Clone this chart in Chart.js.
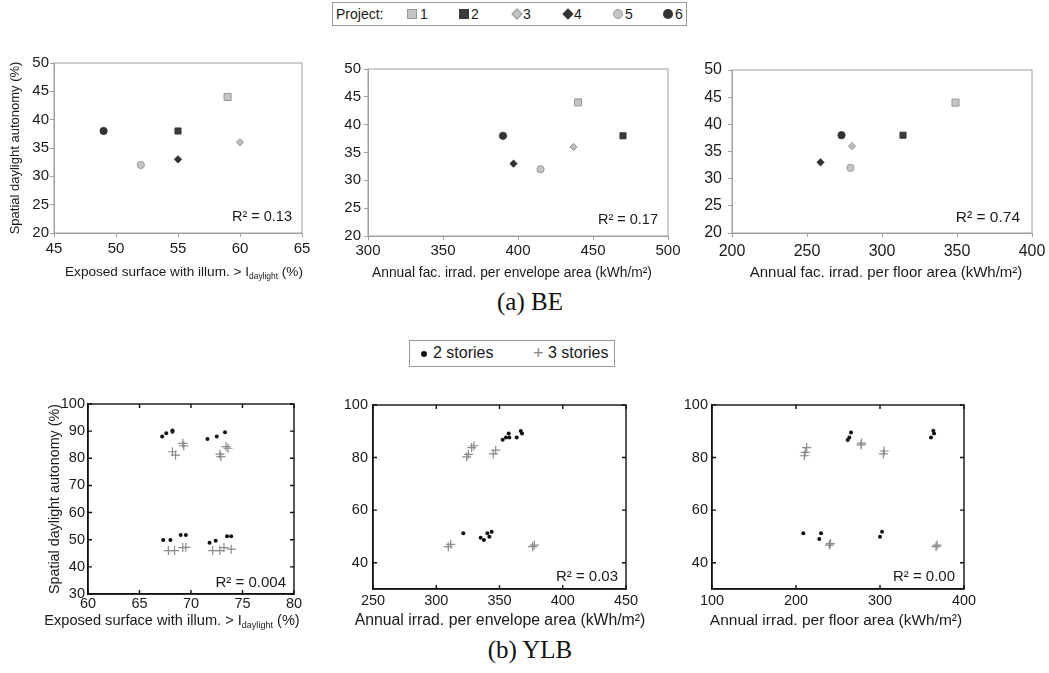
<!DOCTYPE html>
<html>
<head>
<meta charset="utf-8">
<script src="https://cdn.jsdelivr.net/npm/chart.js@4.4.0/dist/chart.umd.min.js"></script>
<style>
  body { margin: 0; width: 1049px; height: 673px; background: #fff; position: relative; overflow: hidden;
         font-family: 'Liberation Sans', Arial, sans-serif; color: #1a1a1a; }
  canvas { position: absolute; }
  .lbl { position: absolute; width: 400px; text-align: center; white-space: nowrap; }
  .sub { font-size: 0.62em; vertical-align: -0.35em; }
  .cap { position: absolute; width: 200px; text-align: center; font-family: 'Liberation Serif', serif; font-size: 25px; color: #111; }
  .legend { position: absolute; border: 1px solid #999; background: #fff; }
  .legend span { position: absolute; white-space: nowrap; }
  .mk { position: absolute; box-sizing: border-box; }
</style>
</head>
<body>

<!-- legend (a) -->
<div class="legend" style="left:332px; top:2px; width:353px; height:22px; font-size:14px;">
  <span style="left:3px; top:3px;">Project:</span>
  <div class="mk" style="left:74px; top:6px; width:10px; height:10px; background:#c4c4c4; border:1px solid #999;"></div>
  <span style="left:87px; top:3px;">1</span>
  <div class="mk" style="left:126px; top:6px; width:10px; height:10px; background:#3a3a3a;"></div>
  <span style="left:138px; top:3px;">2</span>
  <div class="mk" style="left:180px; top:7px; width:8px; height:8px; background:#c4c4c4; border:1px solid #999; transform:rotate(45deg);"></div>
  <span style="left:190px; top:3px;">3</span>
  <div class="mk" style="left:231px; top:7px; width:8px; height:8px; background:#333; transform:rotate(45deg);"></div>
  <span style="left:241px; top:3px;">4</span>
  <div class="mk" style="left:280px; top:6px; width:10px; height:10px; background:#c4c4c4; border:1px solid #999; border-radius:50%;"></div>
  <span style="left:292px; top:3px;">5</span>
  <div class="mk" style="left:330px; top:6px; width:10px; height:10px; background:#333; border-radius:50%;"></div>
  <span style="left:342px; top:3px;">6</span>
</div>

<canvas id="a1" width="322" height="212" style="left:0px; top:51px;"></canvas>
<canvas id="a2" width="360" height="209" style="left:328px; top:57px;"></canvas>
<canvas id="a3" width="357" height="205" style="left:692px; top:58px;"></canvas>

<div class="lbl" style="left:-16px; top:264px; font-size:13.6px;">Exposed surface with illum. &gt; I<span class="sub">daylight</span> (%)</div>
<div class="lbl" style="left:312px; top:265px; font-size:13.8px;">Annual fac. irrad. per envelope area (kWh/m²)</div>
<div class="lbl" style="left:686px; top:263px; font-size:15px;">Annual fac. irrad. per floor area (kWh/m²)</div>
<div class="cap" style="left:430px; top:288px;">(a) BE</div>

<!-- legend (b) -->
<div class="legend" style="left:409px; top:340px; width:204px; height:25px; font-size:16px;">
  <div class="mk" style="left:11px; top:10px; width:6px; height:6px; background:#111; border-radius:50%;"></div>
  <span style="left:23px; top:3px;">2 stories</span>
  <span style="left:123px; top:2px; color:#888; font-size:18px;">+</span>
  <span style="left:138px; top:3px;">3 stories</span>
</div>

<canvas id="b1" width="274" height="226" style="left:40px; top:392px;"></canvas>
<canvas id="b2" width="313" height="220" style="left:333px; top:393px;"></canvas>
<canvas id="b3" width="312" height="220" style="left:672px; top:393px;"></canvas>

<div class="lbl" style="left:-28px; top:612px; font-size:14.6px;">Exposed surface with illum. &gt; I<span class="sub">daylight</span> (%)</div>
<div class="lbl" style="left:300px; top:611px; font-size:15.8px;">Annual irrad. per envelope area (kWh/m²)</div>
<div class="lbl" style="left:636px; top:611px; font-size:15.5px;">Annual irrad. per floor area (kWh/m²)</div>
<div class="cap" style="left:430px; top:636px;">(b) YLB</div>

<script>
// ---- (a) BE : one point per project ----
const beProjects = ['1', '2', '3', '4', '5', '6'];
const beSDA = [44, 38, 36, 33, 32, 38];
const beExposed = [59, 55, 60, 55, 52, 49];
const beEnvelope = [440, 470, 437, 397, 415, 390];
const beFloor = [349, 314, 280, 259, 279, 273];

const beYTicks = [20, 25, 30, 35, 40, 45, 50];
const beExposedTicks = [45, 50, 55, 60, 65];
const beEnvelopeTicks = [300, 350, 400, 450, 500];
const beFloorTicks = [200, 250, 300, 350, 400];

// ---- (b) YLB : 2 stories / 3 stories ----
const ylb2ExposedX = [67.2, 67.6, 68.2, 68.2, 71.6, 72.5, 73.3, 67.3, 68.0, 69.0, 69.5, 71.8, 72.4, 73.5, 73.9];
const ylb2ExposedY = [88.0, 89.2, 90.2, 89.8, 87.1, 88.0, 89.6, 49.9, 49.9, 51.7, 51.7, 48.9, 49.6, 51.3, 51.3];
const ylb3ExposedX = [68.2, 68.5, 69.2, 69.3, 73.4, 73.6, 72.8, 72.9, 67.8, 68.4, 69.2, 69.5, 72.1, 72.8, 73.2, 73.9];
const ylb3ExposedY = [82.4, 81.2, 85.5, 84.6, 84.3, 83.7, 81.5, 80.6, 46.0, 46.0, 47.1, 47.2, 46.0, 46.0, 47.1, 46.5];

const ylb2EnvelopeX = [352.5, 355.1, 357.3, 357.8, 363.6, 366.8, 367.8, 321.4, 335.1, 337.7, 340.4, 342.0, 343.8];
const ylb2EnvelopeY = [86.8, 87.6, 89.2, 87.6, 87.6, 90.1, 89.2, 51.2, 49.5, 48.6, 51.2, 49.9, 51.8];
const ylb3EnvelopeX = [324.1, 325.4, 328.0, 329.8, 345.1, 347.0, 309.5, 311.4, 376.2, 377.5];
const ylb3EnvelopeY = [80.3, 81.2, 83.8, 84.5, 81.4, 82.8, 46.1, 47.0, 46.1, 46.7];

const ylb2FloorX = [261.5, 263.5, 265.5, 360.7, 363.5, 364.3, 208.7, 227.7, 229.8, 300.0, 302.4];
const ylb2FloorY = [86.7, 87.6, 89.5, 87.6, 90.2, 89.2, 51.2, 49.0, 51.2, 49.9, 51.8];
const ylb3FloorX = [212.7, 209.9, 211.0, 277.4, 278.0, 303.9, 305.0, 239.7, 241.0, 366.7, 368.0];
const ylb3FloorY = [83.8, 80.7, 82.0, 84.8, 85.5, 81.4, 82.5, 46.7, 47.3, 46.1, 46.7];

const ylbYTicks = [30, 40, 50, 60, 70, 80, 90, 100];
const ylbYTicks20 = [40, 60, 80, 100];
const ylbExposedTicks = [60, 65, 70, 75, 80];
const ylbEnvelopeTicks = [250, 300, 350, 400, 450];
const ylbFloorTicks = [100, 200, 300, 400];

const rSquared = { a1: 'R² = 0.13', a2: 'R² = 0.17', a3: 'R² = 0.74', b1: 'R² = 0.004', b2: 'R² = 0.03', b3: 'R² = 0.00' };

// marker look per project
const beMarkers = [
  { pointStyle: 'rect', radius: 5, bg: '#c4c4c4', border: '#999' },
  { pointStyle: 'rect', radius: 4.3, bg: '#3a3a3a', border: '#3a3a3a' },
  { pointStyle: 'rectRot', radius: 3.6, bg: '#bdbdbd', border: '#999' },
  { pointStyle: 'rectRot', radius: 3.6, bg: '#333', border: '#333' },
  { pointStyle: 'circle', radius: 3.6, bg: '#c4c4c4', border: '#999' },
  { pointStyle: 'circle', radius: 3.6, bg: '#333', border: '#333' }
];

function zip(xs, ys) {
  return xs.map((x, i) => ({ x: x, y: ys[i] }));
}

function beDatasets(xs) {
  return beProjects.map((p, i) => ({
    label: p,
    data: [{ x: xs[i], y: beSDA[i] }],
    pointStyle: beMarkers[i].pointStyle,
    pointRadius: beMarkers[i].radius,
    backgroundColor: beMarkers[i].bg,
    borderColor: beMarkers[i].border,
    borderWidth: 1
  }));
}

function ylbDatasets(x2, y2, x3, y3) {
  return [
    { label: '2 stories', data: zip(x2, y2), pointStyle: 'circle', pointRadius: 2,
      backgroundColor: '#111', borderColor: '#111', borderWidth: 0 },
    { label: '3 stories', data: zip(x3, y3), pointStyle: 'cross', pointRadius: 4.5,
      backgroundColor: '#888', borderColor: '#8a8a8a', borderWidth: 1.2 }
  ];
}

// box round the plot area, inner ticks (matlab look) and the R² note
const framePlugin = {
  id: 'frame',
  afterDatasetsDraw(chart, args, opts) {
    const { ctx, chartArea: a } = chart;
    ctx.save();
    ctx.strokeStyle = opts.color;
    ctx.lineWidth = opts.width;
    ctx.strokeRect(a.left, a.top, a.right - a.left, a.bottom - a.top);
    if (opts.innerTicks) {
      const sx = chart.scales.x, sy = chart.scales.y, t = 4;
      ctx.beginPath();
      sx.ticks.forEach(tk => {
        const px = sx.getPixelForValue(tk.value);
        ctx.moveTo(px, a.bottom); ctx.lineTo(px, a.bottom - t);
        ctx.moveTo(px, a.top); ctx.lineTo(px, a.top + t);
      });
      sy.ticks.forEach(tk => {
        const py = sy.getPixelForValue(tk.value);
        ctx.moveTo(a.left, py); ctx.lineTo(a.left + t, py);
        ctx.moveTo(a.right, py); ctx.lineTo(a.right - t, py);
      });
      ctx.stroke();
    }
    ctx.fillStyle = '#1a1a1a';
    ctx.font = opts.font;
    ctx.textAlign = 'right';
    ctx.textBaseline = 'middle';
    ctx.fillText(opts.label, a.right - opts.dx, a.bottom - opts.dy);
    ctx.restore();
  }
};

function drawPanel(id, p) {
  const ctx = document.getElementById(id).getContext('2d');
  const font = { family: p.family, size: p.tickSize };
  new Chart(ctx, {
    type: 'scatter',
    data: { datasets: p.datasets },
    options: {
      responsive: false,
      animation: false,
      events: [],
      layout: { padding: { top: p.padT, right: p.padR, left: 0, bottom: 0 } },
      plugins: {
        legend: { display: false },
        tooltip: { enabled: false },
        frame: { color: p.frameColor, width: p.frameWidth, innerTicks: p.innerTicks,
                 label: rSquared[id], font: p.rFont, dx: p.rDx, dy: p.rDy }
      },
      scales: {
        x: {
          type: 'linear',
          min: p.xTicks[0],
          max: p.xTicks[p.xTicks.length - 1],
          afterBuildTicks: s => { s.ticks = p.xTicks.map(v => ({ value: v })); },
          afterFit: s => { s.height = p.padB; s.paddingLeft = 0; s.paddingRight = 0; },
          grid: { drawOnChartArea: false, drawTicks: !p.innerTicks, tickLength: 4, color: p.frameColor },
          border: { color: p.frameColor, width: p.frameWidth },
          ticks: { font: font, color: '#1a1a1a', padding: p.xPad, maxRotation: 0, autoSkip: false }
        },
        y: {
          type: 'linear',
          min: p.yMin,
          max: p.yMax,
          afterBuildTicks: s => { s.ticks = p.yTicks.map(v => ({ value: v })); },
          afterFit: s => { s.width = p.padL; s.paddingTop = 0; s.paddingBottom = 0; },
          grid: { drawOnChartArea: false, drawTicks: !p.innerTicks, tickLength: 4, color: p.frameColor },
          border: { color: p.frameColor, width: p.frameWidth },
          ticks: { font: font, color: '#1a1a1a', padding: p.yPad, autoSkip: false },
          title: {
            display: !!p.yTitle,
            text: p.yTitle || '',
            font: { family: p.family, size: p.titleSize },
            color: '#1a1a1a',
            padding: { top: p.titlePad, bottom: 0 }
          }
        }
      }
    },
    plugins: [framePlugin]
  });
}

const sans = "'Liberation Sans', Arial, sans-serif";
const beBase = {
  family: sans, tickSize: 15, padT: 12, padB: 30, yMin: 20, yMax: 50, yTicks: beYTicks,
  frameColor: '#a0a0a0', frameWidth: 1, innerTicks: false, rFont: "14.5px 'Liberation Sans'",
  titleSize: 13
};
const ylbBase = {
  family: sans, tickSize: 14.5, padT: 12, padB: 24, yMin: 30, yMax: 100,
  frameColor: '#111', frameWidth: 1.4, innerTicks: true, rFont: "15px 'Liberation Sans'",
  titleSize: 14.3
};

drawPanel('a1', Object.assign({}, beBase, {
  datasets: beDatasets(beExposed), xTicks: beExposedTicks, padL: 54, padR: 20,
  xPad: 3, yPad: 1, yTitle: 'Spatial daylight autonomy (%)', titlePad: 8, rDx: 10, rDy: 16
}));
drawPanel('a2', Object.assign({}, beBase, {
  datasets: beDatasets(beEnvelope), xTicks: beEnvelopeTicks, padL: 40, padR: 20,
  xPad: 2, yPad: 3, rDx: 10, rDy: 16
}));
drawPanel('a3', Object.assign({}, beBase, {
  datasets: beDatasets(beFloor), xTicks: beFloorTicks, padL: 40, padR: 17, tickSize: 16,
  xPad: 5, yPad: 6, rDx: 12, rDy: 15, rFont: "15.5px 'Liberation Sans'"
}));

drawPanel('b1', Object.assign({}, ylbBase, {
  datasets: ylbDatasets(ylb2ExposedX, ylb2ExposedY, ylb3ExposedX, ylb3ExposedY),
  xTicks: ylbExposedTicks, yTicks: ylbYTicks, padL: 48, padR: 20,
  xPad: 1, yPad: 3, yTitle: 'Spatial daylight autonomy (%)', titlePad: 6, rDx: 8, rDy: 11
}));
drawPanel('b2', Object.assign({}, ylbBase, {
  datasets: ylbDatasets(ylb2EnvelopeX, ylb2EnvelopeY, ylb3EnvelopeX, ylb3EnvelopeY),
  xTicks: ylbEnvelopeTicks, yTicks: ylbYTicks20, padL: 40, padR: 20,
  xPad: 3, yPad: 5, rDx: 8, rDy: 12
}));
drawPanel('b3', Object.assign({}, ylbBase, {
  datasets: ylbDatasets(ylb2FloorX, ylb2FloorY, ylb3FloorX, ylb3FloorY),
  xTicks: ylbFloorTicks, yTicks: ylbYTicks20, padL: 40, padR: 20,
  xPad: 3, yPad: 4, rDx: 9, rDy: 12
}));
</script>
</body>
</html>
